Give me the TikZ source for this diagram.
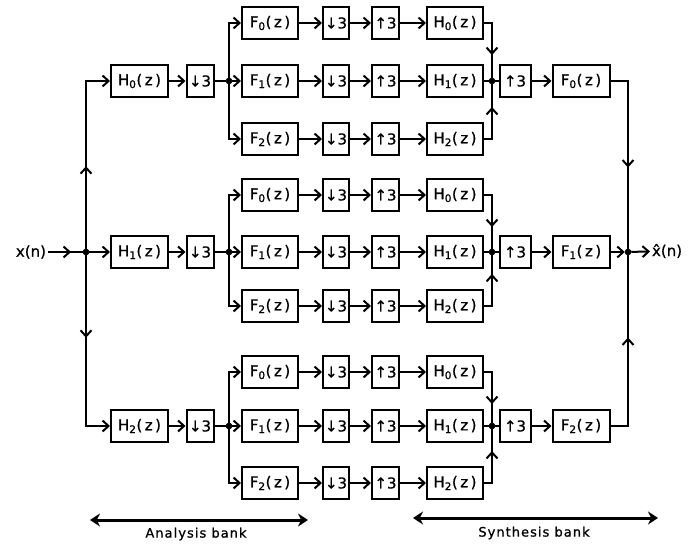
\documentclass[tikz,border=0pt]{standalone}
\usepackage{fontspec}
\setmainfont{DejaVu Sans}[FakeBold=0.9]
\usetikzlibrary{arrows.meta,decorations.markings}
\begin{document}
\begin{tikzpicture}[x=1pt,y=-1pt,line width=2pt,
  barb/.tip={Straight Barb[length=6pt,width=11pt]},
  tip/.style={-barb},
  midarr/.style={postaction={decorate},decoration={markings,mark=at position #1 with {\arrow{barb}}}},
  box/.style={draw,line width=2pt,minimum height=32pt,inner sep=0pt,font=\fontsize{15}{17}\selectfont},
  big/.style={box,minimum width=57pt},
  small/.style={box,minimum width=27pt},
  dot/.style={circle,draw,fill=black,inner sep=0pt,minimum size=6pt,line width=0.5pt},
  lab/.style={font=\fontsize{15}{17}\selectfont,inner sep=1pt},
  bank/.style={font=\fontsize{13}{15}\selectfont\addfontfeatures{LetterSpace=8}},
  bankarr/.style={line width=3pt,{Stealth[length=10pt,width=13pt]}-{Stealth[length=10pt,width=13pt]}}
]
\useasboundingbox (0,0) rectangle (699,545);
\newcommand{\dn}{↓3}
\newcommand{\up}{↑3}

% input
\node[lab,anchor=east] (xin) at (48,252) {x(n)};
\node[dot] (J) at (86,252) {};
\draw[midarr=23pt] (xin) -- (J);

% output junction
\node[dot] (O) at (628,252) {};
\node[lab,anchor=west] (xout) at (650,251) {\^{x}(n)};
\draw[tip] (O) -- (xout);

\foreach \g/\ya/\yb/\yc in {0/23/81/139, 1/195/252/306, 2/372/426/483} {
  \node[big] (H\g) at (139.5,\yb) {H\textsubscript{\g}(\,z\,)};
  \node[small] (D\g) at (200,\yb) {\dn};
  \node[dot] (B\g) at (229,\yb) {};
  \draw (D\g) -- (B\g);
  \draw[tip] (H\g) -- (D\g);
  \foreach \j/\y in {0/\ya,1/\yb,2/\yc} {
    \node[big,minimum width=56pt] (F\g\j) at (270,\y) {F\textsubscript{\j}(\,z\,)};
    \node[small,minimum width=26pt] (d\g\j) at (336,\y) {\dn};
    \node[small] (u\g\j) at (385.5,\y) {\up};
    \node[big,minimum width=56pt] (S\g\j) at (455,\y) {H\textsubscript{\j}(\,z\,)};
    \draw[tip] (F\g\j) -- (d\g\j);
    \draw[tip] (d\g\j) -- (u\g\j);
    \draw[tip] (u\g\j) -- (S\g\j);
  }
  \draw[tip] (B\g) -- (F\g1);
  \draw[tip] (B\g) |- (F\g0);
  \draw[tip] (B\g) |- (F\g2);
  \node[dot] (P\g) at (492,\yb) {};
  \draw (S\g1) -- (P\g);
  \draw[midarr=40pt] (S\g0) -| (P\g);
  \draw[midarr=40pt] (S\g2) -| (P\g);
  \node[small,minimum width=31pt] (U\g) at (515,\yb) {\up};
  \draw (P\g) -- (U\g);
  \node[big] (G\g) at (581,\yb) {F\textsubscript{\g}(\,z\,)};
  \draw[tip] (U\g) -- (G\g);
}

% analysis fan-out
\draw[tip,midarr=82.5pt] (J) |- (H0);
\draw[tip,midarr=82.5pt] (J) |- (H2);
\draw[tip] (J) -- (H1);

% synthesis fan-in
\draw[midarr=104pt] (G0) -| (O);
\draw[midarr=106pt] (G2) -| (O);
\draw[tip] (G1) -- (O);

% bank labels
\coordinate (a1) at (90,520); \coordinate (a2) at (308,520);
\coordinate (s1) at (413,518); \coordinate (s2) at (658,518);
\draw[bankarr] (a1) -- (a2);
\draw[bankarr] (s1) -- (s2);
\node[bank] (abank) at (196,534) {Analysis bank};
\node[bank] (sbank) at (534,533) {Synthesis bank};
\end{tikzpicture}
\end{document}
